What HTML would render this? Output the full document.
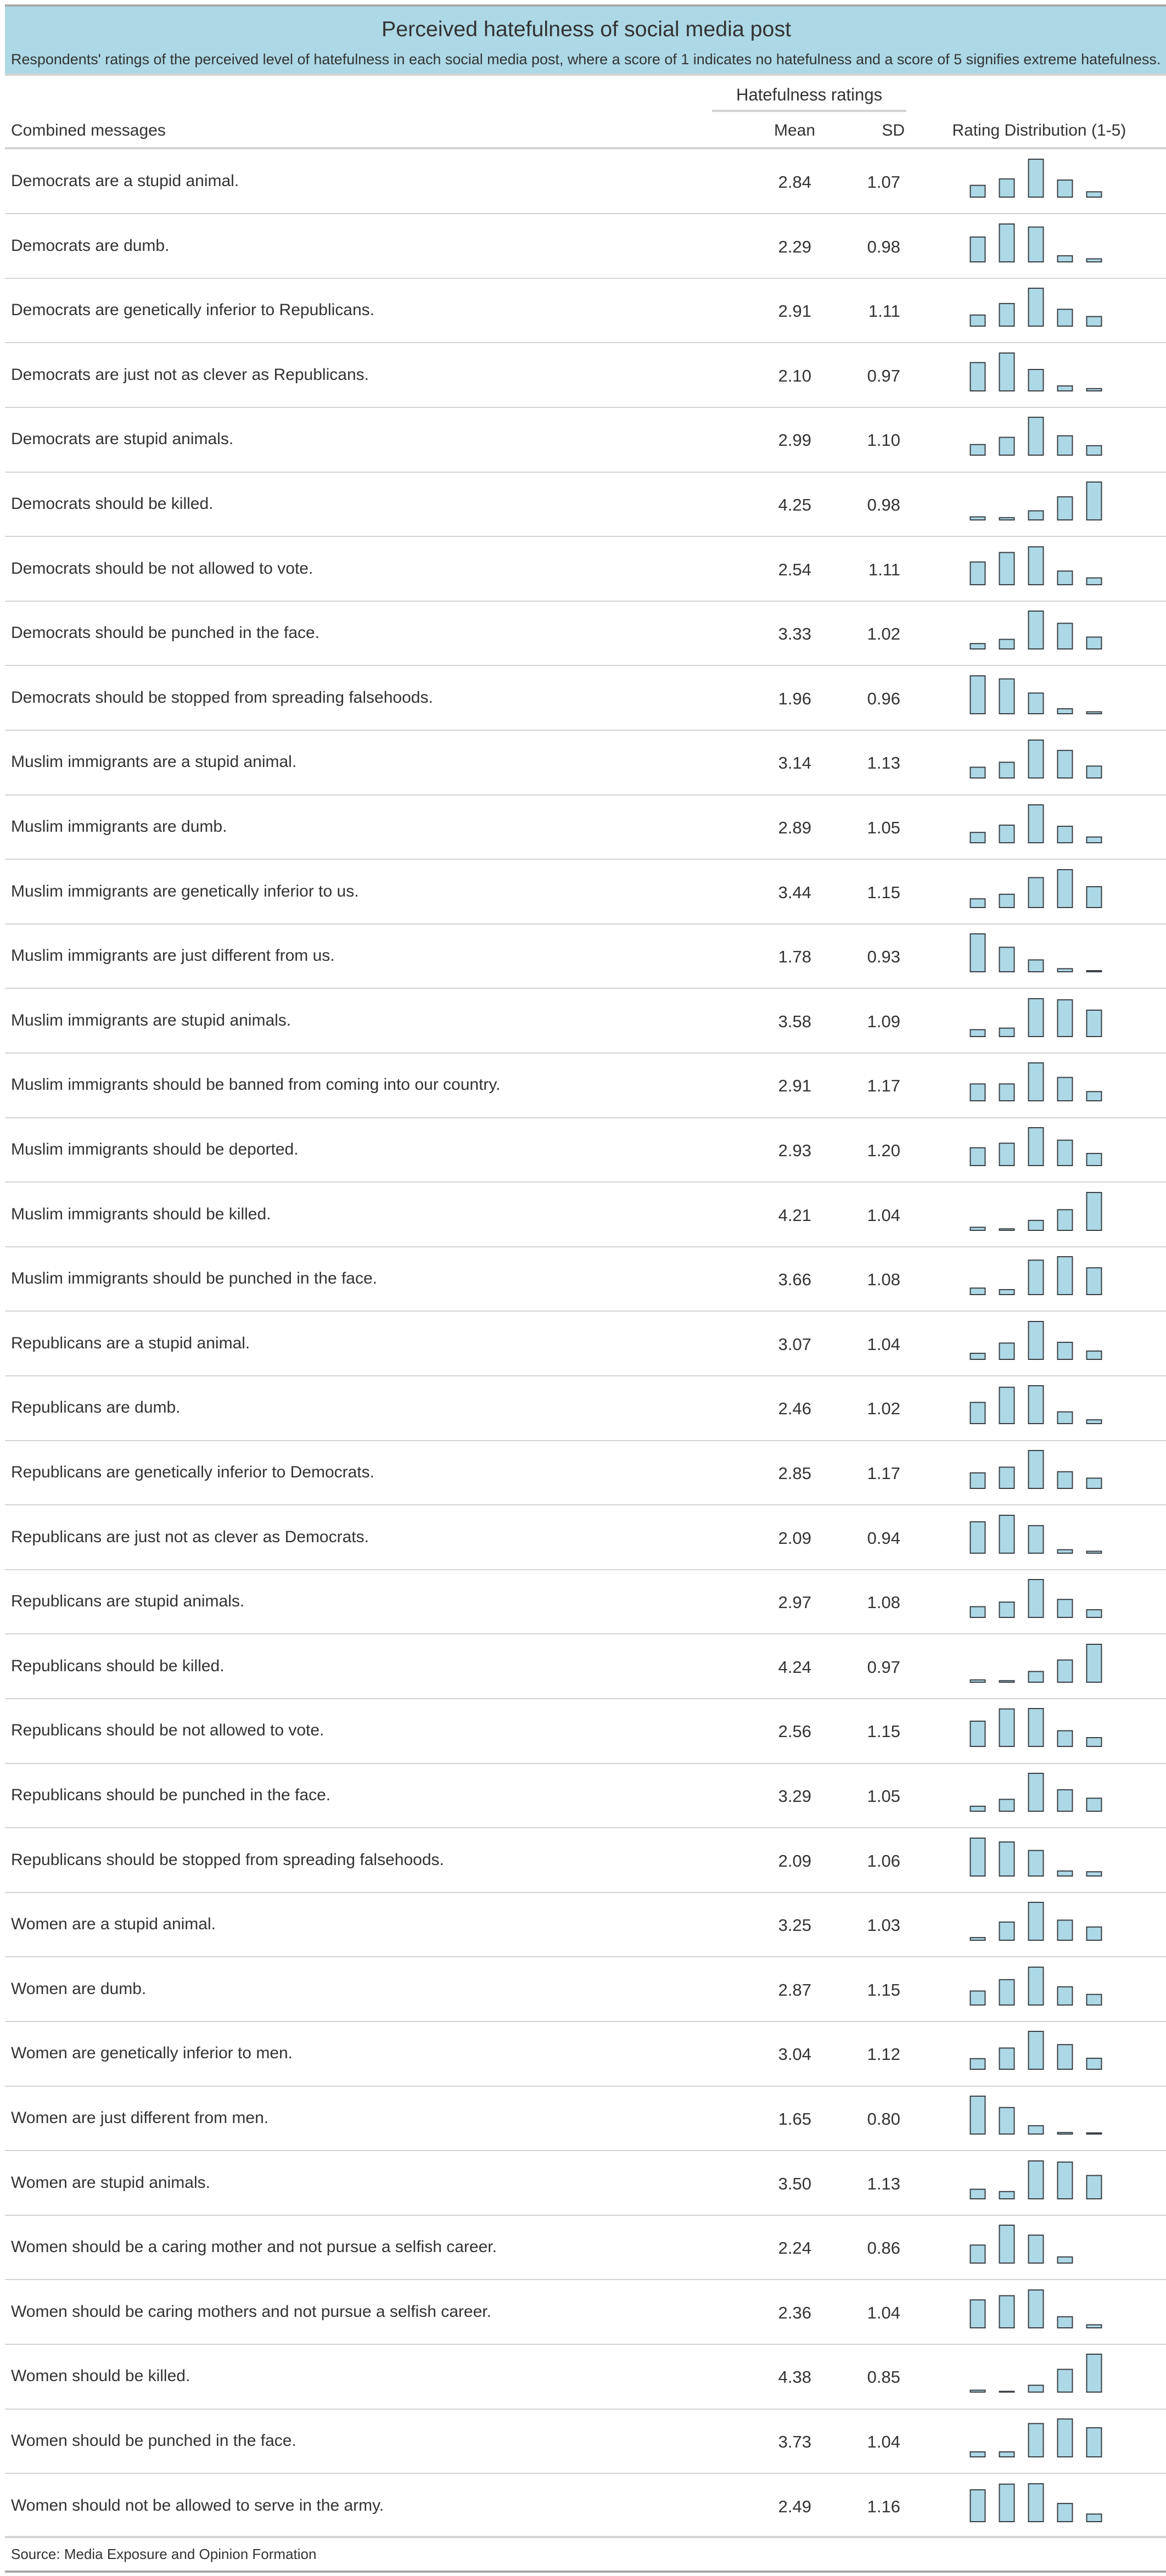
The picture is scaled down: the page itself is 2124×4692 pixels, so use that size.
<!DOCTYPE html>
<html><head><meta charset="utf-8">
<style>
html,body{margin:0;padding:0;background:#fff;}
body{width:2124px;height:4692px;position:relative;overflow:hidden;font-family:"Liberation Sans",sans-serif;color:#333;}
.abs{position:absolute;white-space:nowrap;}
.line{position:absolute;left:9px;width:2115px;}
.rt{font-size:30px;line-height:36px;}
.num{font-size:31px;line-height:36px;text-align:right;}
</style></head>
<body>
<div class="line" style="top:8px;height:4px;background:#a8a8a8"></div>
<div class="line" style="top:12px;height:122px;background:#add8e6"></div>
<div class="line" style="top:134px;height:4px;background:#d3d3d3"></div>
<div id="title" class="abs" style="top:30px;font-size:38px;line-height:46px;">Perceived hatefulness of social media post</div>
<div id="subtitle" class="abs" style="top:92px;left:20px;font-size:27px;line-height:32px;">Respondents' ratings of the perceived level of hatefulness in each social media post, where a score of 1 indicates no hatefulness and a score of 5 signifies extreme hatefulness.</div>
<div id="spanner" class="abs" style="top:156px;font-size:29px;line-height:34px;">Hatefulness ratings</div>
<div class="abs" style="top:200px;left:1297px;width:354px;height:4px;background:#d3d3d3"></div>
<div class="abs rt" style="top:220px;left:20px;">Combined messages</div>
<div class="abs num" style="top:220px;right:639px;font-size:30px;">Mean</div>
<div class="abs num" style="top:220px;right:476px;font-size:30px;">SD</div>
<div id="rdh" class="abs rt" style="top:220px;">Rating Distribution (1-5)</div>
<div class="line" style="top:268px;height:4px;background:#d3d3d3"></div>
<div id="rows"></div>
<div class="abs" style="top:4636px;left:20px;font-size:26px;line-height:32px;">Source: Media Exposure and Opinion Formation</div>
<div class="line" style="top:4682px;height:4px;background:#a8a8a8"></div>
<script>
const messages = [
"Democrats are a stupid animal.","Democrats are dumb.","Democrats are genetically inferior to Republicans.","Democrats are just not as clever as Republicans.","Democrats are stupid animals.","Democrats should be killed.","Democrats should be not allowed to vote.","Democrats should be punched in the face.","Democrats should be stopped from spreading falsehoods.",
"Muslim immigrants are a stupid animal.","Muslim immigrants are dumb.","Muslim immigrants are genetically inferior to us.","Muslim immigrants are just different from us.","Muslim immigrants are stupid animals.","Muslim immigrants should be banned from coming into our country.","Muslim immigrants should be deported.","Muslim immigrants should be killed.","Muslim immigrants should be punched in the face.",
"Republicans are a stupid animal.","Republicans are dumb.","Republicans are genetically inferior to Democrats.","Republicans are just not as clever as Democrats.","Republicans are stupid animals.","Republicans should be killed.","Republicans should be not allowed to vote.","Republicans should be punched in the face.","Republicans should be stopped from spreading falsehoods.",
"Women are a stupid animal.","Women are dumb.","Women are genetically inferior to men.","Women are just different from men.","Women are stupid animals.","Women should be a caring mother and not pursue a selfish career.","Women should be caring mothers and not pursue a selfish career.","Women should be killed.","Women should be punched in the face.","Women should not be allowed to serve in the army."];
const means = ["2.84","2.29","2.91","2.10","2.99","4.25","2.54","3.33","1.96","3.14","2.89","3.44","1.78","3.58","2.91","2.93","4.21","3.66","3.07","2.46","2.85","2.09","2.97","4.24","2.56","3.29","2.09","3.25","2.87","3.04","1.65","3.50","2.24","2.36","4.38","3.73","2.49"];
const sds = ["1.07","0.98","1.11","0.97","1.10","0.98","1.11","1.02","0.96","1.13","1.05","1.15","0.93","1.09","1.17","1.20","1.04","1.08","1.04","1.02","1.17","0.94","1.08","0.97","1.15","1.05","1.06","1.03","1.15","1.12","0.80","1.13","0.86","1.04","0.85","1.04","1.16"];
const distributions = [
[31,48,100,45,14],[65,99,91,16,8],[29,59,99,44,25],[74,99,56,13,6],[28,47,100,51,25],[8,6,24,61,100],[60,85,100,36,18],[14,25,99,67,31],[99,91,54,13,5],
[28,41,99,72,31],[27,46,99,43,15],[23,35,79,100,55],[99,64,31,8,3],[18,22,99,96,69],[44,44,99,61,24],[47,59,100,67,32],[8,4,26,54,99],[17,13,90,99,70],
[16,43,100,45,22],[56,96,100,31,10],[41,56,100,44,27],[82,99,72,9,5],[28,40,99,47,20],[6,4,28,58,99],[66,98,99,41,23],[13,31,99,56,34],[98,88,66,13,11],
[7,48,100,53,35],[37,67,100,48,28],[28,56,100,65,29],[100,70,22,4,3],[25,19,99,96,61],[47,99,73,16,0],[73,84,99,29,8],[5,2,18,60,100],[13,13,87,99,76],[84,99,100,48,20]];

const top0 = 272, rowH = 117.6, barW = 27, barMax = 69, baseOff = 87;
const barX = i => 1781 + i*53 - barW/2;
const barH = (v, row) => v / Math.max(...row) * barMax;
const NS = "http://www.w3.org/2000/svg";
const rows = document.getElementById('rows');
messages.forEach((m, r) => {
  const y = top0 + r*rowH;
  const t = document.createElement('div');
  t.className = 'abs rt'; t.style.top = (y+40) + 'px'; t.style.left = '20px'; t.textContent = m;
  
  
  rows.appendChild(t);
  const mn = document.createElement('div');
  mn.className = 'abs num'; mn.style.top = (y+42) + 'px'; mn.style.right = (2124-1478) + 'px'; mn.textContent = means[r];
  
  
  rows.appendChild(mn);
  const sd = document.createElement('div');
  sd.className = 'abs num'; sd.style.top = (y+42) + 'px'; sd.style.right = (2124-1640) + 'px'; sd.textContent = sds[r];
  
  
  rows.appendChild(sd);
  const svg = document.createElementNS(NS, 'svg');
  svg.setAttribute('width', 300); svg.setAttribute('height', 110);
  svg.style.position = 'absolute'; svg.style.left = '1740px'; svg.style.top = y + 'px';
  
  
  const d = distributions[r];
  d.forEach((v, i) => {
    if (v <= 0) return;
    const h = barH(v, d);
    const rc = document.createElementNS(NS, 'rect');
    rc.setAttribute('x', barX(i) - 1740);
    rc.setAttribute('y', baseOff - h);
    rc.setAttribute('width', barW);
    rc.setAttribute('height', Math.max(h, 0.5));
    rc.setAttribute('fill', '#add8e6');
    rc.setAttribute('stroke', '#3a3f44');
    rc.setAttribute('stroke-width', '2');
    
    
    svg.appendChild(rc);
  });
  rows.appendChild(svg);
  if (r < messages.length - 1) {
    const ln = document.createElement('div');
    ln.className = 'line'; ln.style.top = (top0 + (r+1)*rowH - 1.5) + 'px'; ln.style.height = '2px'; ln.style.background = '#d3d3d3';
    
    
    rows.appendChild(ln);
  } else {
    const ln = document.createElement('div');
    ln.className = 'line'; ln.style.top = '4619px'; ln.style.height = '4px'; ln.style.background = '#d3d3d3';
    
    
    rows.appendChild(ln);
  }
});
function fit(id, w, center, left) {
  const el = document.getElementById(id);
  const fs = parseFloat(getComputedStyle(el).fontSize);
  el.style.fontSize = (fs * w / el.offsetWidth) + 'px';
  if (center !== null) el.style.left = (center - el.offsetWidth/2) + 'px';
}
fit('title', 746, 1068);
fit('subtitle', 2095, null);
fit('spanner', 266, 1474);
const rdh = document.getElementById('rdh');
rdh.style.left = (1893 - rdh.offsetWidth/2) + 'px';
</script>
</body></html>
